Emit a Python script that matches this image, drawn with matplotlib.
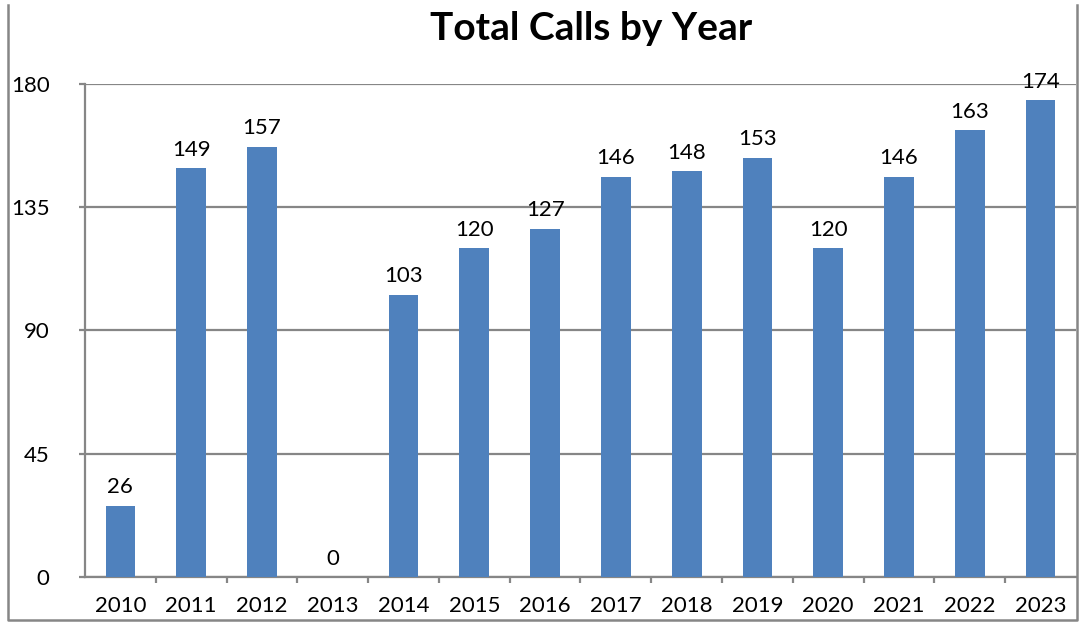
import numpy as np
import matplotlib
matplotlib.use("Agg")
import matplotlib.pyplot as plt
from matplotlib.lines import Line2D

plt.rcParams['font.family'] = ['Lato', 'DejaVu Sans']

# data
years = ['2010', '2011', '2012', '2013', '2014', '2015', '2016',
         '2017', '2018', '2019', '2020', '2021', '2022', '2023']
calls = [26, 149, 157, 0, 103, 120, 127, 146, 148, 153, 120, 146, 163, 174]
y_ticks = [0, 45, 90, 135, 180]

bar_color = '#4F81BD'
grey = '#868686'

fig = plt.figure(figsize=(10.8, 6.24), dpi=100)
ax = fig.add_axes([85 / 1080, 1 - 577 / 624, 991 / 1080, (577 - 83.5) / 624])

x = np.arange(len(years))
bars = ax.bar(x, calls, width=0.42, color=bar_color, zorder=3)

for xi, v in zip(x, calls):
    ax.annotate(str(v), (xi, v), xytext=(0, 6), textcoords='offset points',
                ha='center', va='bottom', fontsize=16, color='black')

ax.set_xlim(-0.5, len(years) - 0.5)
ax.set_ylim(0, 180)
ax.set_yticks(y_ticks)
ax.set_yticklabels([str(t) for t in y_ticks], fontsize=16)
ax.yaxis.grid(True, color=grey, linewidth=1.6, zorder=0)
ax.set_axisbelow(True)

# category labels in the middle, ticks on boundaries
ax.set_xticks(x)
ax.set_xticklabels(years, fontsize=16)
ax.tick_params(axis='x', which='major', length=0, pad=14)
ax.set_xticks(np.arange(-0.5, len(years) + 0.5, 1)[1:-1], minor=True)
ax.tick_params(axis='x', which='minor', length=4.5, width=1.6, color=grey)
ax.tick_params(axis='y', length=4.5, width=1.6, color=grey, pad=21)

for side in ['top', 'right']:
    ax.spines[side].set_visible(False)
for side in ['left', 'bottom']:
    ax.spines[side].set_color(grey)
    ax.spines[side].set_linewidth(1.6)

fig.text(591 / 1080, 1 - 29 / 624, 'Total Calls by Year', ha='center', va='center',
         fontsize=28, fontweight='bold')

# chart border (left, bottom, right)
bx0, bx1, by1, by0 = 8 / 1080, 1077 / 1080, 1 - 5 / 624, 1 - 620 / 624
fig.add_artist(Line2D([bx0, bx0, bx1, bx1], [by1, by0, by0, by1],
                      transform=fig.transFigure, color=grey, linewidth=1.8))

fig.savefig('out.png', dpi=100)
